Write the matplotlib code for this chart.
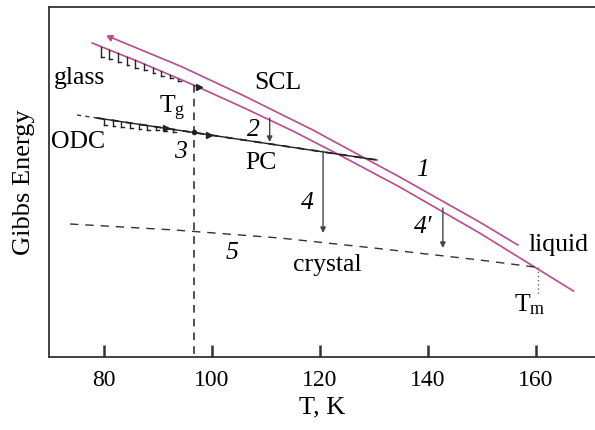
import matplotlib
matplotlib.use("Agg")
import matplotlib.pyplot as plt
import numpy as np

plt.rcParams['font.family'] = ['Liberation Serif', 'DejaVu Serif']
plt.rcParams['mathtext.fontset'] = 'custom'
plt.rcParams['mathtext.rm'] = 'Liberation Serif'
plt.rcParams['mathtext.it'] = 'Liberation Serif:italic'

# ---- data (T in K, G in arbitrary units) ----
scl_T = [81.1, 94.1, 106.0, 118.7, 134.8, 149.6, 156.7]
scl_G = [32.0, 29.1, 26.1, 22.7, 18.0, 13.5, 11.2]
liq_T = [77.8, 87.0, 96.6, 106.0, 115.0, 124.0, 134.8, 149.6, 159.8, 167.0]
liq_G = [31.4, 29.4, 27.2, 24.9, 22.6, 20.1, 17.0, 12.4, 9.0, 6.6]
cryst_T = [73.7, 93.1, 112.6, 130.0, 149.6, 159.8]
cryst_G = [13.3, 12.7, 11.9, 10.9, 9.7, 9.0]
pc_T = [78.7, 130.6]
pc_G = [23.9, 19.7]
odc_dash_T = [75.0, 78.7]
odc_dash_G = [24.2, 23.9]
Tg = 96.6
Tg_top = 27.2
Tm = 160.4
Tm_G = [9.0, 6.2]
arrow_T = [110.7, 120.6, 142.8]
arrow_top = [23.9, 20.6, 14.9]
arrow_bot = [21.5, 12.4, 10.9]
glass_hatch_T = [79.5, 81.0, 82.6, 84.2, 85.8, 87.4, 89.0, 90.6, 92.2, 93.8]
glass_hatch_len = [1.0, 0.95, 0.9, 0.8, 0.75, 0.65, 0.55, 0.45, 0.35, 0.25]
odc_hatch_T = [80.0, 81.6, 83.2, 84.8, 86.4, 88.0, 89.6, 91.2, 92.8]
odc_hatch_len = [0.55, 0.55, 0.5, 0.5, 0.45, 0.4, 0.35, 0.3, 0.25]
xticks = [80, 100, 120, 140, 160]

MAG = '#b94a90'
fig = plt.figure(figsize=(5.95, 4.30), dpi=100)
ax = fig.add_axes([49/595, 73/430, (595-49)/595, 350/430])
ax.set_xlim(69.8, 171.0)
ax.set_ylim(0, 35)

ax.plot(scl_T, scl_G, color=MAG, lw=1.2)
ax.plot(liq_T, liq_G, color=MAG, lw=1.2)
ax.plot(scl_T[0], scl_G[0], marker=(3, 0, 65), color=MAG, ms=5)
ax.plot(cryst_T, cryst_G, color='#333333', lw=1.0, dashes=(6, 5))
ax.plot(pc_T, pc_G, color='#222222', lw=1.0)
ax.plot(pc_T, pc_G, color='#222222', lw=1.3, dashes=(4, 4))
ax.plot(odc_dash_T, odc_dash_G, color='#333333', lw=1.0, dashes=(3, 3))

# hatch marks below glass (along liquid curve) and ODC (along PC line)
for t, L in zip(glass_hatch_T, glass_hatch_len):
    g0 = np.interp(t, liq_T, liq_G)
    ax.plot([t, t], [g0, g0 - L], color='#222222', lw=1.0)
    ax.plot([t, t + 0.5], [g0 - L, g0 - L], color='#222222', lw=1.0)
for t, L in zip(odc_hatch_T, odc_hatch_len):
    g0 = np.interp(t, pc_T, pc_G)
    ax.plot([t, t], [g0, g0 - L], color='#222222', lw=1.0)
    ax.plot([t, t + 0.5], [g0 - L, g0 - L], color='#222222', lw=1.0)

# Tg and Tm vertical lines
ax.plot([Tg, Tg], [Tg_top, 0], color='#222222', lw=1.1, dashes=(5, 4))
ax.plot([Tm, Tm], Tm_G, color='#666666', lw=1.0, dashes=(1, 2))
ax.plot(Tg, np.interp(Tg, pc_T, pc_G), 'o', color='#222222', ms=3)
ax.plot(Tg + 1.0, np.interp(Tg + 1.0, liq_T, liq_G), marker='>', color='#222222', ms=4)
for t in [91.5, 99.5]:
    ax.plot(t, np.interp(t, pc_T, pc_G), marker='>', color='#222222', ms=4)

# vertical transition arrows
for t, a, b in zip(arrow_T, arrow_top, arrow_bot):
    ax.annotate('', xy=(t, b), xytext=(t, a),
                arrowprops=dict(arrowstyle='-|>', color='#444444', lw=1.0,
                                mutation_scale=8, shrinkA=0, shrinkB=0))

fs = 18.5
ax.text(112.2, 27.4, 'SCL', fontsize=fs, ha='center', va='center')
ax.text(75.4, 27.9, 'glass', fontsize=fs, ha='center', va='center')
ax.text(92.6, 24.9, r'T$_{\rm g}$', fontsize=fs, ha='center', va='center')
ax.text(75.2, 21.5, 'ODC', fontsize=fs, ha='center', va='center')
ax.text(109.1, 19.4, 'PC', fontsize=fs, ha='center', va='center')
ax.text(121.3, 9.2, 'crystal', fontsize=fs, ha='center', va='center')
ax.text(164.3, 11.2, 'liquid', fontsize=fs, ha='center', va='center')
ax.text(158.9, 5.2, r'T$_{\rm m}$', fontsize=fs, ha='center', va='center')
for s, x, y in [('1', 139.1, 18.7), ('2', 107.6, 22.7), ('3', 94.1, 20.5),
                ('4', 117.6, 15.4), ('4\u2032', 139.1, 13.0), ('5', 103.7, 10.4)]:
    ax.text(x, y, s, fontsize=fs, ha='center', va='center', style='italic')

ax.set_xticks(xticks)
ax.set_yticks([])
ax.tick_params(axis='x', direction='in', length=9, width=1.8, color='#333333',
               labelsize=17, pad=9)
for s in ['left', 'top', 'bottom']:
    ax.spines[s].set_linewidth(1.3)
    ax.spines[s].set_color('#333333')
ax.spines['right'].set_visible(False)
ax.set_xlabel('T, K', fontsize=19, labelpad=4)
ax.set_ylabel('Gibbs Energy', fontsize=19, labelpad=10)

fig.savefig('out.png', dpi=100)
